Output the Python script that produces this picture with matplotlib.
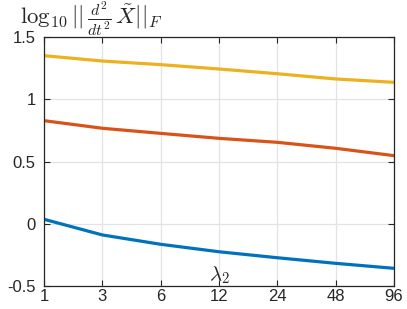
import numpy as np
from matplotlib import pyplot as plt

plt.rcParams['font.family'] = ['Liberation Sans', 'DejaVu Sans']
plt.rcParams['mathtext.fontset'] = 'cm'

# 数据
lambda2_labels = ['1', '3', '6', '12', '24', '48', '96']
blue_vals = [0.036, -0.090, -0.165, -0.225, -0.273, -0.318, -0.358]
red_vals = [0.828, 0.767, 0.726, 0.686, 0.654, 0.606, 0.547]
yellow_vals = [1.350, 1.307, 1.278, 1.243, 1.205, 1.163, 1.136]

x = np.arange(len(lambda2_labels))

fig = plt.figure(figsize=(4.07, 3.09), dpi=100)
ax = fig.add_axes([44 / 407, 1 - 286 / 309, 350 / 407, 249 / 309])

ax.plot(x, blue_vals, color='#0072BD', lw=2.3)
ax.plot(x, red_vals, color='#D95319', lw=2.3)
ax.plot(x, yellow_vals, color='#EDB120', lw=2.3)

ax.set_xlim(0, len(x) - 1)
ax.set_ylim(-0.5, 1.5)
ax.set_xticks(x)
ax.set_xticklabels(lambda2_labels)
ax.set_yticks([-0.5, 0, 0.5, 1, 1.5])
ax.set_yticklabels(['-0.5', '0', '0.5', '1', '1.5'])
ax.tick_params(direction='in', top=True, right=True, labelsize=12, length=4,
               color='#262626', labelcolor='#262626')
ax.tick_params(axis='y', pad=6)
ax.tick_params(axis='x', pad=2)
ax.grid(True, color='#e3e3e3', lw=0.9)
ax.set_axisbelow(True)
for s in ax.spines.values():
    s.set_color('#262626')
    s.set_linewidth(0.9)

# x 轴标签放在坐标区内
ax.text(0.5, 0.042, r'$\lambda_2$', transform=ax.transAxes, ha='center',
        va='center', fontsize=15, color='#262626')

# 左上角的标题
fig.text(20 / 407, 1 - 19 / 309, r'$\log_{10}||\,\frac{d^2}{dt^2}\,\tilde{X}||_F$',
         ha='left', va='center', fontsize=16.5, color='#262626')

plt.savefig('out.png', dpi=100)
plt.close()
